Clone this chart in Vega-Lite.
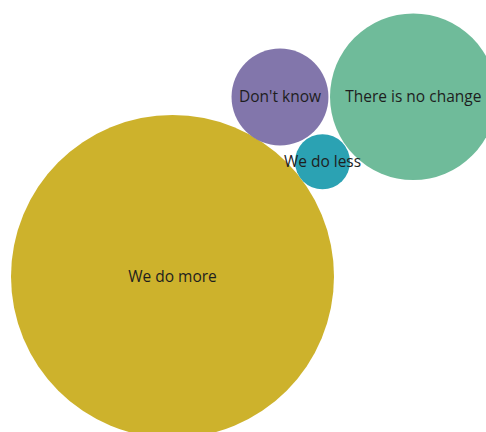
{
  "$schema": "https://vega.github.io/schema/vega-lite/v6.json",
  "width": 486,
  "height": 432,
  "padding": 0,
  "autosize": {"type": "none"},
  "background": "#ffffff",
  "config": {"view": {"stroke": null}},
  "data": {
    "values": [
      {"answer": "We do more", "share": 72.2, "cx": 172.5, "cy": 276.5},
      {"answer": "There is no change", "share": 19.2, "cx": 413.3, "cy": 96.7},
      {"answer": "Don't know", "share": 6.5, "cx": 280, "cy": 97},
      {"answer": "We do less", "share": 2.1, "cx": 322.5, "cy": 161.7}
    ]
  },
  "encoding": {
    "x": {"field": "cx", "type": "quantitative", "scale": {"domain": [0, 486], "nice": false, "zero": false}, "axis": null},
    "y": {"field": "cy", "type": "quantitative", "scale": {"domain": [0, 432], "nice": false, "zero": false, "reverse": true}, "axis": null}
  },
  "layer": [
    {
      "mark": {"type": "circle", "opacity": 1, "strokeWidth": 0},
      "encoding": {
        "size": {"field": "share", "type": "quantitative", "scale": {"type": "linear", "zero": true, "domain": [0, 72.2], "range": [0, 104329]}, "legend": null},
        "color": {
          "field": "answer", "type": "nominal", "legend": null,
          "scale": {
            "domain": ["We do more", "There is no change", "Don't know", "We do less"],
            "range": ["#CDB22C", "#6FBB9A", "#8276AB", "#2BA2B3"]
          }
        }
      }
    },
    {
      "mark": {"type": "text", "font": "Open Sans", "fontSize": 15.5, "color": "#1e1e1e", "align": "center", "baseline": "middle"},
      "encoding": {"text": {"field": "answer", "type": "nominal"}}
    }
  ]
}
